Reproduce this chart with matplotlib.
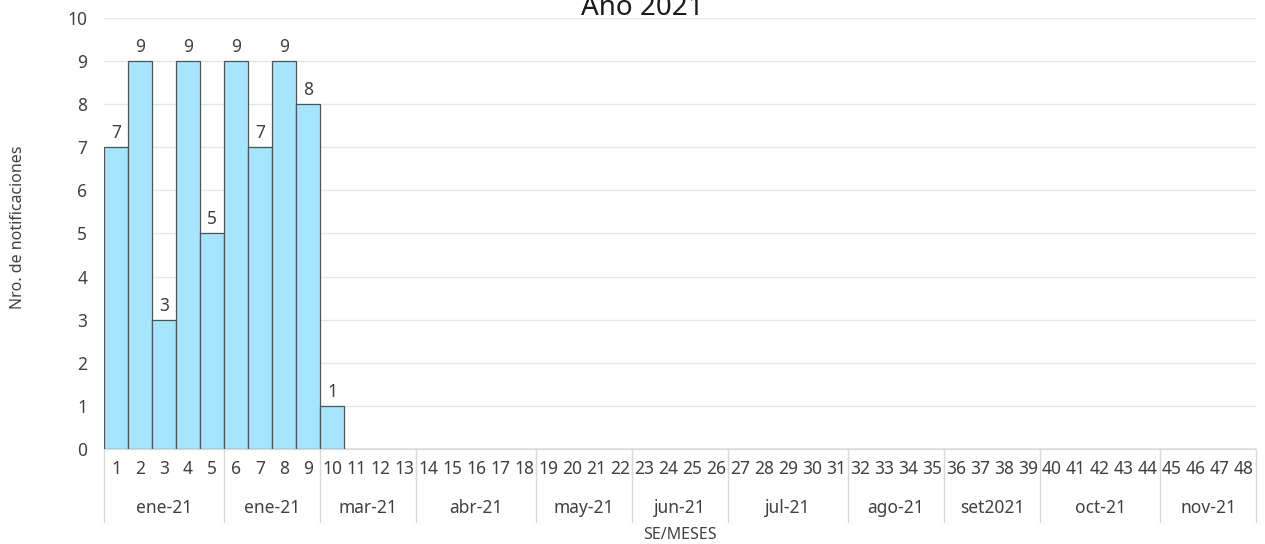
import matplotlib.pyplot as plt
import matplotlib.transforms as mtransforms
import numpy as np

plt.rcParams['font.family'] = ['Noto Sans', 'DejaVu Sans']

weeks = [str(i) for i in range(1, 49)]
counts = [7, 9, 3, 9, 5, 9, 7, 9, 8, 1] + [0] * 38
months = ["ene-21", "ene-21", "mar-21", "abr-21", "may-21", "jun-21",
          "jul-21", "ago-21", "set2021", "oct-21", "nov-21"]
weeks_per_month = [5, 4, 4, 5, 4, 4, 5, 4, 4, 5, 4]

bar_color = "#A6E5FB"
grid_color = "#E6E6E6"
text_color = "#404040"

fig = plt.figure(figsize=(12.65, 5.44), dpi=100)
ax = fig.add_axes([0.0822, 0.1746, 0.9107, 0.7924])

x = np.arange(len(weeks))
ax.bar(x, counts, width=1.0, color=bar_color, edgecolor="#4a5459",
       linewidth=0.9, zorder=3)

for xi, v in zip(x, counts):
    if v > 0:
        ax.annotate(str(v), (xi, v), xytext=(0, 6.5), textcoords="offset points",
                    ha="center", va="baseline", fontsize=12.5, color=text_color)

ax.set_xlim(-0.5, len(weeks) - 0.5)
ax.set_ylim(0, 10)
ax.set_yticks(range(0, 11))
ax.tick_params(axis="y", length=0, labelsize=12.5, labelcolor=text_color, pad=12)
ax.yaxis.grid(True, color=grid_color, linewidth=1, zorder=0)

ax.set_xticks(x)
ax.set_xticklabels(weeks)
ax.tick_params(axis="x", length=0, labelsize=12.5, labelcolor=text_color, pad=8)

for s in ["top", "right", "left"]:
    ax.spines[s].set_visible(False)
ax.spines["bottom"].set_color("#D9D9D9")

# month groups under the week labels
trans = mtransforms.blended_transform_factory(ax.transData, ax.transAxes)
bounds = np.concatenate([[0], np.cumsum(weeks_per_month)]) - 0.5
for b in bounds:
    ax.plot([b, b], [0, -0.17], transform=trans, color="#D9D9D9",
            linewidth=1, clip_on=False)
for m, lo, hi in zip(months, bounds[:-1], bounds[1:]):
    ax.text((lo + hi) / 2, -0.136, m, transform=trans, ha="center", va="center",
            fontsize=12.5, color=text_color)

fig.text(0.5375, 0.0165, "SE/MESES", ha="center", va="center",
         fontsize=11.5, color=text_color)
fig.text(0.0142, 0.583, "Nro. de notificaciones", rotation=90, ha="center",
         va="center", fontsize=11.5, color=text_color)
fig.text(0.508, 0.972, "Año 2021", ha="center", va="baseline",
         fontsize=20, color="#1a1a1a")

fig.savefig("out.png", dpi=100)
